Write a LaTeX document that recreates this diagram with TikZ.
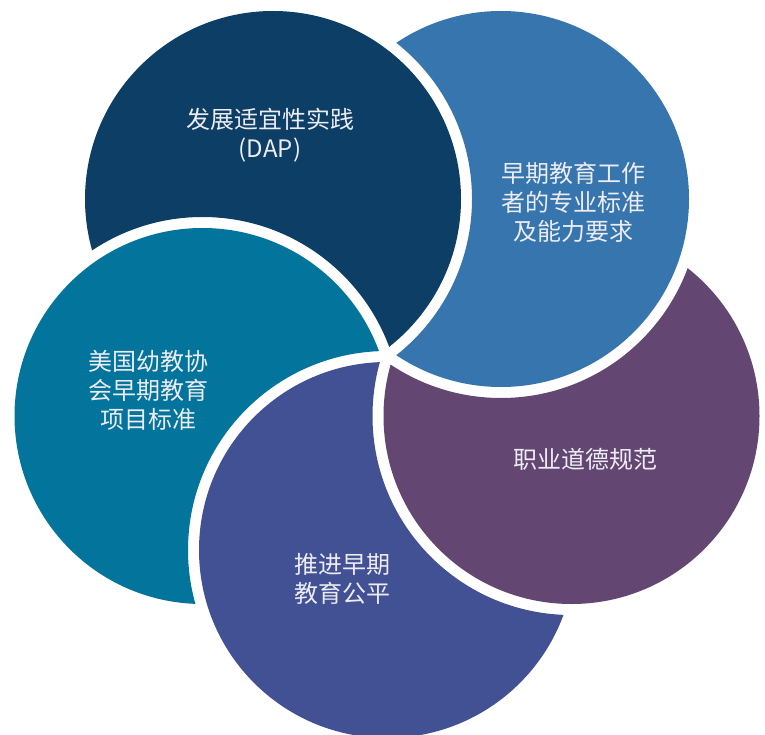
\documentclass[tikz,border=0pt]{standalone}
\usepackage{fontspec}
\newfontfamily\cjk{Noto Sans CJK SC}
\definecolor{dapnavy}{RGB}{12,62,102}
\definecolor{stdblue}{RGB}{54,117,173}
\definecolor{ethicpurple}{RGB}{99,70,114}
\definecolor{equityindigo}{RGB}{66,80,148}
\definecolor{naeycteal}{RGB}{3,116,156}
\definecolor{textgray}{RGB}{236,236,242}

\begin{document}
\begin{tikzpicture}[x=1pt,y=-1pt,
  ringtext/.style={text=textgray, align=center,
    font=\cjk\fontsize{24}{29}\selectfont}]

\useasboundingbox (0,0) rectangle (765,735);

% circle centres, a regular pentagon round (387,356)
\coordinate (dap)    at (273,199);
\coordinate (prof)   at (501,199);
\coordinate (ethic)  at (571.5,416);
\coordinate (equity) at (387,550);
\coordinate (naeyc)  at (202.5,416);

% each disc loses the (white rimmed) disc lying over it
\begin{scope}
\clip (dap) circle (188);
\fill[dapnavy, even odd rule] (-20,-20) rectangle (785,755) (naeyc) circle (199);
\end{scope}

\begin{scope}
\clip (naeyc) circle (188);
\fill[naeycteal, even odd rule] (-20,-20) rectangle (785,755) (equity) circle (199);
\end{scope}

\begin{scope}
\clip (equity) circle (188);
\fill[equityindigo, even odd rule] (-20,-20) rectangle (785,755) (ethic) circle (199);
\end{scope}

\begin{scope}
\clip (ethic) circle (188);
\fill[ethicpurple, even odd rule] (-20,-20) rectangle (785,755) (prof) circle (199);
\end{scope}

\begin{scope}
\clip (prof) circle (188);
\fill[stdblue, even odd rule] (-20,-20) rectangle (785,755) (dap) circle (199);
\end{scope}

\node[ringtext] (dapText)    at (270,135)   {发展适宜性实践\\(DAP)};
\node[ringtext] (profText)   at (573.5,202) {早期教育工作\\者的专业标准\\及能力要求};
\node[ringtext] (ethicText)  at (585,459)   {职业道德规范};
\node[ringtext] (equityText) at (342.5,579) {推进早期\\教育公平};
\node[ringtext] (naeycText)  at (148,390)   {美国幼教协\\会早期教育\\项目标准};

\end{tikzpicture}
\end{document}
